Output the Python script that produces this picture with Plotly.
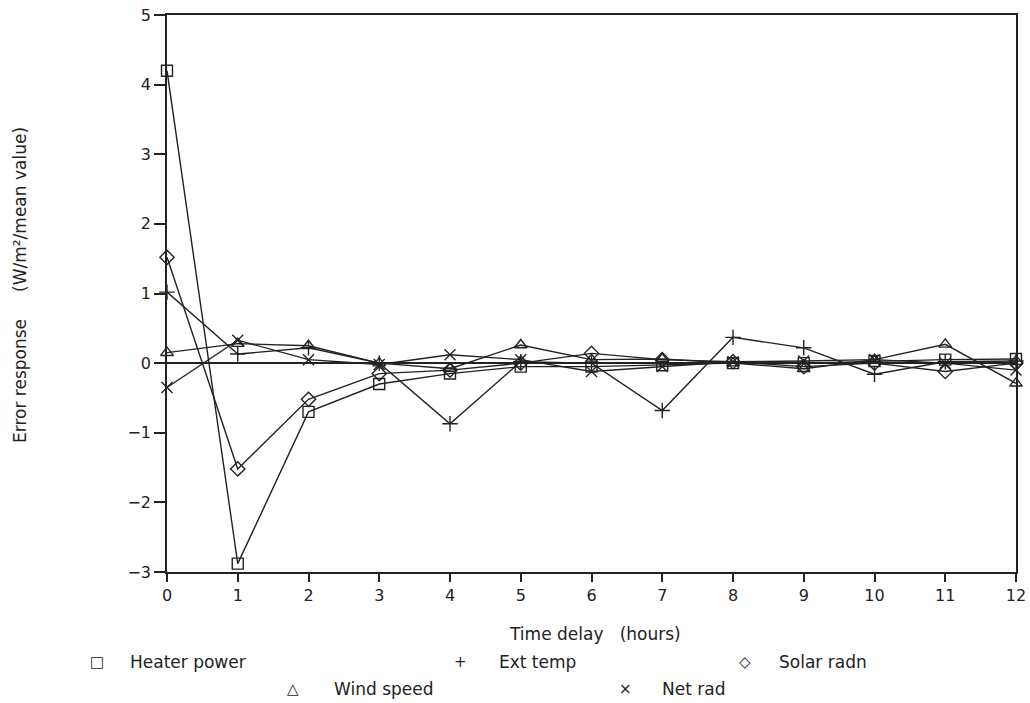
import plotly.graph_objects as go

delay = list(range(13))
heater_power = [4.2, -2.88, -0.7, -0.3, -0.15, -0.05, -0.05, -0.03, 0.0, 0.0, 0.03, 0.05, 0.06]
ext_temp = [1.02, 0.13, 0.22, 0.0, -0.87, 0.02, 0.0, -0.68, 0.37, 0.22, -0.16, 0.02, 0.03]
solar_radn = [1.52, -1.52, -0.52, -0.15, -0.1, 0.0, 0.14, 0.05, 0.02, -0.05, 0.0, -0.12, 0.0]
wind_speed = [0.15, 0.28, 0.25, 0.0, -0.08, 0.26, 0.05, 0.06, 0.0, -0.08, 0.05, 0.27, -0.29]
net_rad = [-0.35, 0.33, 0.05, -0.02, 0.12, 0.05, -0.12, -0.05, 0.02, 0.03, 0.05, 0.0, -0.1]

series = [
    ("Heater power", heater_power, "square-open", "□"),
    ("Ext temp", ext_temp, "cross-thin-open", "+"),
    ("Solar radn", solar_radn, "diamond-open", "◇"),
    ("Wind speed", wind_speed, "triangle-up-open", "△"),
    ("Net rad", net_rad, "x-thin-open", "×"),
]

y_ticks = [-3, -2, -1, 0, 1, 2, 3, 4, 5]
font = "DejaVu Sans"

W, H = 1030, 703
L, R, T, B = 167, 1016, 15, 572

fig = go.Figure()
for name, vals, sym, _ in series:
    fig.add_trace(go.Scatter(
        x=delay, y=vals, mode="lines+markers", name=name,
        line=dict(color="#222", width=1.4),
        marker=dict(symbol=sym, size=11, color="#222", line=dict(color="#222", width=1.4)),
        cliponaxis=False, showlegend=False,
    ))

fig.update_layout(
    width=W, height=H,
    margin=dict(l=L, r=W - R, t=T, b=H - B, autoexpand=False),
    paper_bgcolor="white", plot_bgcolor="white",
    font=dict(family=font, size=16, color="#222"),
)
fig.update_xaxes(
    range=[0, 12], tickvals=delay, ticks="outside", ticklen=8, tickwidth=1.5,
    tickcolor="#222", showline=True, linecolor="#222", linewidth=1.5, mirror=True,
    showgrid=False, zeroline=False, automargin=False,
    tickfont=dict(size=16),
)
fig.update_yaxes(
    range=[-3, 5], tickvals=y_ticks, ticks="outside", ticklen=11, tickwidth=1.5,
    tickcolor="#222", showline=True, linecolor="#222", linewidth=1.5, mirror=True,
    showgrid=False, zeroline=True, zerolinecolor="#222", zerolinewidth=1.5,
    automargin=False, tickfont=dict(size=16),
)


def px_x(xp):
    return (xp - L) / (R - L)


def px_y(yp):
    return (B - yp) / (B - T)


def note(text, xp, yp, anchor="left", angle=0, size=17):
    fig.add_annotation(
        x=px_x(xp), y=px_y(yp), xref="paper", yref="paper",
        xanchor=anchor, yanchor="middle", showarrow=False, textangle=angle,
        text=text, font=dict(size=size, family=font, color="#222"),
    )


note("Time delay&nbsp;&nbsp;&nbsp;(hours)", 595, 634, anchor="center")
note("Error response&nbsp;&nbsp;&nbsp;&nbsp;&nbsp;(W/m²/mean value)", 20, 285, anchor="center", angle=-90)

legend_pos = {
    "Heater power": (97, 128, 662),
    "Ext temp": (460, 497, 662),
    "Solar radn": (745, 777, 662),
    "Wind speed": (293, 332, 689),
    "Net rad": (625, 660, 689),
}
for name, _, _, glyph in series:
    gx, tx, yp = legend_pos[name]
    note(glyph, gx, yp, anchor="center", size=15)
    note(name, tx, yp)

fig.write_html(
    "out.html",
    config={"displayModeBar": False},
    post_script="document.body.style.margin='0';document.body.style.overflow='hidden';",
)
